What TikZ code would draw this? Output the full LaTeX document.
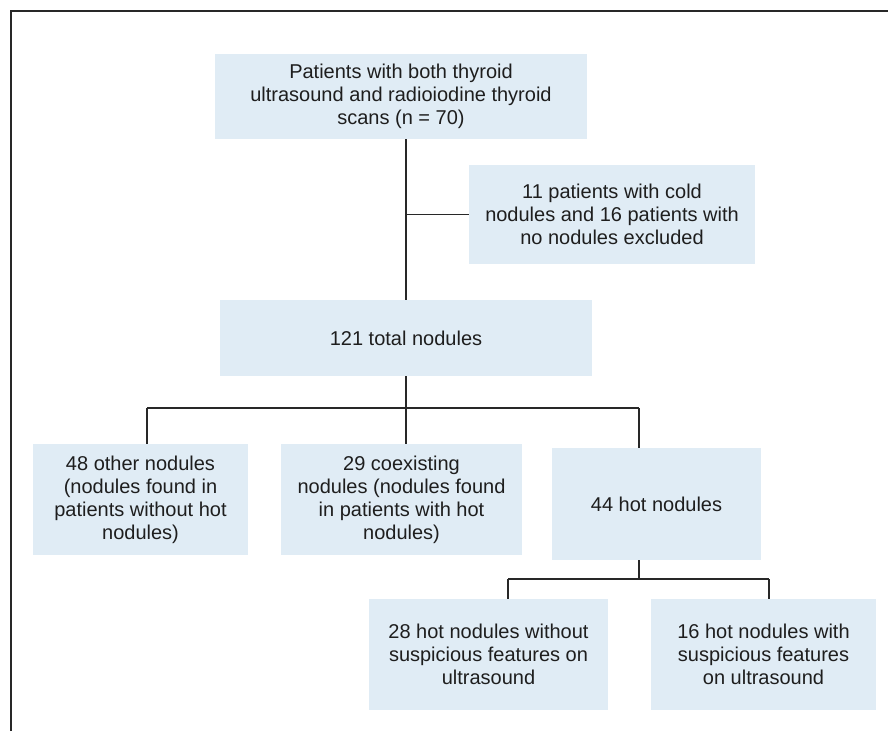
\documentclass[tikz,border=0pt]{standalone}
\usepackage{fontspec}
\setmainfont{Liberation Sans}
\usetikzlibrary{calc}
\definecolor{kasten}{RGB}{224,236,245}
\definecolor{linie}{RGB}{40,40,40}
\definecolor{schrift}{RGB}{30,30,30}

\begin{document}
\begin{tikzpicture}[x=1pt, y=-1pt,
	box/.style={fill=kasten, inner sep=0pt, align=center, text=schrift,
		font=\fontsize{20}{23}\selectfont},
	verb/.style={draw=linie, line width=1.3pt}]

	\useasboundingbox (0,0) rectangle (888,731);
	\draw[line width=1.8pt, linie] (11,731) -- (11,11) -- (888,11);

	% Stufe 1
	\node[box, minimum width=372, minimum height=85] (P) at (401,96.5)
		{Patients with both thyroid\\ultrasound and radioiodine thyroid\\scans (n = 70)};
	\node[box, minimum width=286, minimum height=99] (A) at (612,214.5)
		{11 patients with cold\\nodules and 16 patients with\\no nodules excluded};
	\node[box, minimum width=372, minimum height=76] (N) at (406,338) {121 total nodules};

	\draw[verb] (P.south -| N.north) -- (N.north);
	\draw[verb] (A.west) -- (A.west -| N.north);

	% Stufe 2
	\node[box, minimum width=215, minimum height=111] (N1) at (140.5,499.5)
		{48 other nodules\\(nodules found in\\patients without hot\\nodules)};
	\node[box, minimum width=241, minimum height=111] (N2) at (401.5,499.5)
		{29 coexisting\\nodules (nodules found\\in patients with hot\\nodules)};
	\node[box, minimum width=209, minimum height=112] (N3) at (656.5,504) {44 hot nodules};

	\coordinate (V1) at (147,408);
	\coordinate (V3) at (639,408);
	\draw[verb] (V1) -- (V3);
	\draw[verb] (N.south) -- (N.south |- N2.north);
	\draw[verb] (V1) -- (V1 |- N1.north);
	\draw[verb] (V3) -- (V3 |- N3.north);

	% Stufe 3
	\node[box, minimum width=239, minimum height=111] (N31) at (488.5,654.5)
		{28 hot nodules without\\suspicious features on\\ultrasound};
	\node[box, minimum width=225, minimum height=111] (N32) at (763.5,654.5)
		{16 hot nodules with\\suspicious features\\on ultrasound};

	\coordinate (V31) at (508,579);
	\coordinate (V32) at (769,579);
	\draw[verb] (V3 |- N3.south) -- (V3 |- V31);
	\draw[verb] (V31) -- (V32);
	\draw[verb] (V31) -- (V31 |- N31.north);
	\draw[verb] (V32) -- (V32 |- N32.north);

\end{tikzpicture}
\end{document}
